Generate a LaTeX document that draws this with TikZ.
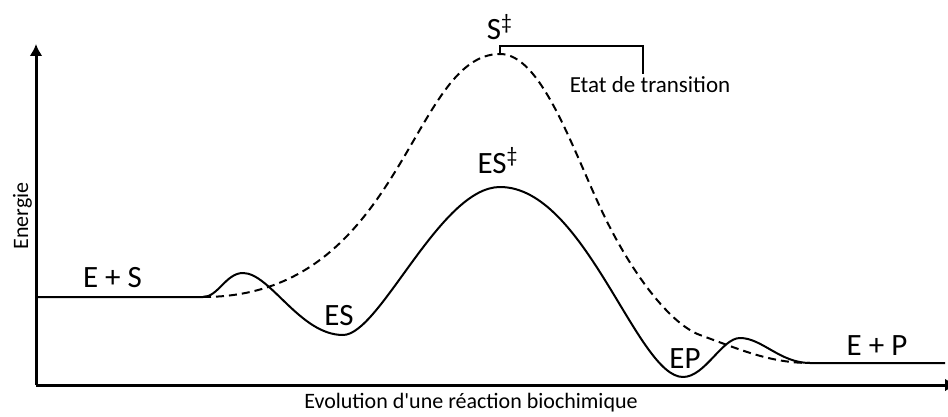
\documentclass[tikz,border=0pt]{standalone}
\usepackage{fontspec}
\setmainfont{Carlito}
\usetikzlibrary{arrows.meta}
\tikzset{
  axis/.style   ={line width=1.5pt, -{Latex[length=6pt,width=6.5pt]}},
  react/.style  ={line width=1pt, line join=round},
  tsline/.style ={line width=1pt, dash pattern=on 4pt off 2.5pt},
  brk/.style    ={line width=1pt},
  big/.style    ={font=\fontsize{15.5}{18}\selectfont, inner sep=0pt, anchor=base},
  small/.style  ={font=\fontsize{11}{13}\selectfont, inner sep=0pt, anchor=base},
}

\begin{document}
\begin{tikzpicture}[x=0.5pt, y=-0.5pt]
\useasboundingbox (0,0) rectangle (948,417);
% axes
\coordinate (orig) at (36,385);
\coordinate (ytip) at (36,44);
\coordinate (xtip) at (957,385);
\draw[axis] (orig) -- (ytip);
\draw[axis] (orig) -- (xtip);
\node[small] (xlbl) at (471,408) {Evolution d\textquotesingle une réaction biochimique};
\node[small, rotate=90] (ylbl) at (28,216) {Energie};
% reaction with enzyme
\coordinate (start) at (36,297);
\coordinate (bump1) at (203,297);
\coordinate (stop) at (945,363);
\draw[react] (start) -- (bump1)
  .. controls (218,297) and (226,273) .. (243,273)
  .. controls (270,273) and (300,335) .. (343,335)
  .. controls (380,335) and (440,187) .. (500,187)
  .. controls (585,187) and (637,377) .. (683,377)
  .. controls (705,377) and (722,338) .. (740,338)
  .. controls (762,338) and (780,363) .. (810,363)
  -- (stop);
% reaction without enzyme
\coordinate (speak) at (500,54);
\coordinate (join) at (810,363);
\draw[tsline] (bump1) .. controls (403,297) and (410,54) .. (speak)
  .. controls (540,54) and (570,142) .. (600,207)
  .. controls (630,272) and (670,324) .. (700,335)
  .. controls (740,349.5) and (770,363) .. (join);
% transition state bracket
\coordinate (brkl) at (500,46);
\coordinate (brkr) at (643,46);
\coordinate (brkend) at (643,74);
\draw[brk] (speak) -- (brkl) -- (brkr) -- (brkend);
\node[small, font=\fontsize{11.5}{14}\selectfont] (etat) at (650,93) {Etat de transition};
% labels
\node[big] (es0) at (112.5,287) {E + S};
\node[big] (es) at (339,325) {ES};
\node[big] (ests) at (498,173) {ES\textsuperscript{‡}};
\node[big] (sts) at (500,40) {S\textsuperscript{‡}};
\node[big] (ep) at (685,368) {EP};
\node[big] (ep0) at (877,355) {E + P};
\end{tikzpicture}
\end{document}
